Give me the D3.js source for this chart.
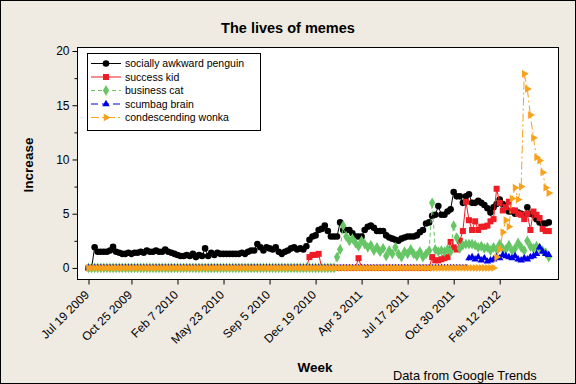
<!DOCTYPE html>
<html>
<head>
<meta charset="utf-8">
<script src="https://cdn.jsdelivr.net/npm/d3@7"></script>
<style>
    html, body { margin: 0; padding: 0; background: #efebe2; }
    svg { display: block; font-family: "Liberation Sans", Arial, sans-serif; }
</style>
</head>
<body>
<svg id="chart" width="576" height="384"></svg>
<script>
//weekly search interest, first week is Jul 19 2009
var penguin = [
    0, 0, 1.9, 1.5, 1.5, 1.5, 1.5, 1.6, 1.95, 1.5,
    1.4, 1.3, 1.3, 1.4, 1.3, 1.4, 1.4, 1.5, 1.4, 1.6,
    1.5, 1.5, 1.6, 1.5, 1.5, 1.7, 1.5, 1.4, 1.3, 1.2,
    1.1, 1.1, 1.2, 1.1, 1.3, 1.0, 1.2, 1.1, 1.8, 1.1,
    1.4, 1.2, 1.4, 1.3, 1.3, 1.3, 1.3, 1.3, 1.3, 1.3,
    1.4, 1.3, 1.5, 1.6, 1.6, 2.2, 1.9, 1.6, 1.9, 1.8,
    1.7, 1.9, 1.5, 1.3, 1.5, 1.6, 1.8, 1.9, 1.7, 1.8,
    1.7, 2.0, 2.6, 2.9, 3.0, 3.5, 3.6, 3.9, 3.4, 2.9,
    2.9, 2.9, 4.2, 3.5, 3.5, 3.5, 3.2, 2.9, 2.9, 2.9,
    3.5, 3.8, 3.9, 3.7, 3.4, 3.4, 3.4, 3.0, 2.8, 2.7,
    2.6, 2.5, 2.7, 2.8, 2.9, 2.9, 2.9, 3.0, 3.3, 3.5,
    4.1, 4.2, 4.8, 4.9, 5.7, 4.9, 4.9, 5.2, 5.4, 7.0,
    6.6, 6.6, 6.0, 6.6, 6.8, 6.0, 6.0, 6.2, 6.0, 5.8,
    5.5, 5.1, 5.6, 5.9, 6.3, 5.9, 5.4, 5.2, 5.2, 5.0,
    5.1, 5.0, 4.8, 5.6, 5.0, 4.9, 4.5, 4.2, 4.1, 4.1, 4.2
];
var successKid = [
    0, 0, 0, 0, 0, 0, 0, 0, 0, 0,
    0, 0, 0, 0, 0, 0, 0, 0, 0, 0,
    0, 0, 0, 0, 0, 0, 0, 0, 0, 0,
    0, 0, 0, 0, 0, 0, 0, 0, 0, 0,
    0, 0, 0, 0, 0, 0, 0, 0, 0, 0,
    0, 0, 0, 0, 0, 0, 0, 0, 0, 0,
    0, 0, 0, 0, 0, 0, 0, 0, 0, 0,
    0, 0, 1.0, 1.2, 1.2, 1.3, 0, 0, 0, 0,
    0, 0, 0, 0, 0, 0, 0, 0, 0.9, 0,
    0, 0, 0, 0, 0, 0, 0, 0, 0, 0,
    0, 0, 0, 0, 0, 0, 0, 0, 0, 0,
    0, 0, 1.0, 0.7, 0.7, 0.8, 0.9, 1.0, 2.4, 1.9,
    1.7, 2.5, 3.4, 6.1, 4.4, 3.5, 4.3, 3.5, 3.8, 3.8,
    3.9, 4.3, 4.5, 7.3, 6.0, 5.3, 5.6, 6.1, 5.3, 5.3,
    5.0, 4.9, 4.5, 5.0, 3.5, 5.2, 4.9, 4.6, 3.6, 3.4, 3.4
];
var businessCat = [
    0, 0, 0, 0, 0, 0, 0, 0, 0, 0,
    0, 0, 0, 0, 0, 0, 0, 0, 0, 0,
    0, 0, 0, 0, 0, 0, 0, 0, 0, 0,
    0, 0, 0, 0, 0, 0, 0, 0, 0, 0,
    0, 0, 0, 0, 0, 0, 0, 0, 0, 0,
    0, 0, 0, 0, 0, 0, 0, 0, 0, 0,
    0, 0, 0, 0, 0, 0, 0, 0, 0, 0,
    0, 0, 0, 0, 0, 0, 0, 0, 0, 0,
    0, 1.0, 1.7, 3.9, 2.9, 2.5, 2.7, 2.3, 2.0, 2.5,
    2.2, 1.9, 2.1, 1.6, 1.9, 1.5, 1.8, 1.1, 1.6, 1.3,
    1.9, 1.3, 1.0, 1.5, 1.3, 1.7, 1.3, 1.1, 1.5, 1.0,
    1.3, 1.6, 6.0, 1.7, 1.5, 1.6, 1.5, 1.7, 1.5, 3.9,
    2.8, 1.8, 2.1, 2.2, 2.2, 2.2, 2.1, 1.9, 2.0, 1.8,
    1.9, 1.6, 1.9, 1.7, 2.2, 1.8, 1.7, 2.1, 1.6, 1.8,
    2.3, 1.9, 1.6, 2.5, 2.0, 1.8, 2.0, 1.8, 1.6, 1.4, 1.0
];
var scumbagBrain = [
    0, 0, 0, 0, 0, 0, 0, 0, 0, 0,
    0, 0, 0, 0, 0, 0, 0, 0, 0, 0,
    0, 0, 0, 0, 0, 0, 0, 0, 0, 0,
    0, 0, 0, 0, 0, 0, 0, 0, 0, 0,
    0, 0, 0, 0, 0, 0, 0, 0, 0, 0,
    0, 0, 0, 0, 0, 0, 0, 0, 0, 0,
    0, 0, 0, 0, 0, 0, 0, 0, 0, 0,
    0, 0, 0, 0, 0, 0, 0, 0, 0, 0,
    0, 0, 0, 0, 0, 0, 0, 0, 0, 0,
    0, 0, 0, 0, 0, 0, 0, 0, 0, 0,
    0, 0, 0, 0, 0, 0, 0, 0, 0, 0,
    0, 0, 0, 0, 0, 0, 0, 0, 0, 0,
    0, 0, 0, 0, 0.9, 1.0, 0.8, 1.0, 0.7, 0.9,
    0.6, 0.7, 0.8, 1.0, 0.9, 1.2, 1.1, 1.0, 0.9, 1.1,
    0.8, 0.7, 0.9, 0.8, 1.0, 1.1, 1.3, 1.9, 1.5, 1.3, 1.2
];
var wonka = [
    0, 0, 0, 0, 0, 0, 0, 0, 0, 0,
    0, 0, 0, 0, 0, 0, 0, 0, 0, 0,
    0, 0, 0, 0, 0, 0, 0, 0, 0, 0,
    0, 0, 0, 0, 0, 0, 0, 0, 0, 0,
    0, 0, 0, 0, 0, 0, 0, 0, 0, 0,
    0, 0, 0, 0, 0, 0, 0, 0, 0, 0,
    0, 0, 0, 0, 0, 0, 0, 0, 0, 0,
    0, 0, 0, 0, 0, 0, 0, 0, 0, 0,
    0, 0, 0, 0, 0, 0, 0, 0, 0, 0,
    0, 0, 0, 0, 0, 0, 0, 0, 0, 0,
    0, 0, 0, 0, 0, 0, 0, 0, 0, 0,
    0, 0, 0, 0, 0, 0, 0, 0, 0, 0,
    0, 0, 0, 0, 0, 0, 0, 0, 0, 0,
    0, 0, 0, 1.0, 1.7, 3.3, 4.4, 3.8, 6.4, 7.4,
    6.3, 7.5, 17.9, 16.5, 14.1, 12.0, 10.2, 9.9, 8.8, 7.4, 6.9
];

//x axis ticks sit on week numbers, labels are the week dates
var tickWeeks = [0, 14, 29, 44, 59, 74, 89, 104, 119, 134];
var tickLabels = ['Jul 19 2009', 'Oct 25 2009', 'Feb 7 2010', 'May 23 2010', 'Sep 5 2010',
    'Dec 19 2010', 'Apr 3 2011', 'Jul 17 2011', 'Oct 30 2011', 'Feb 12 2012'];
var yTicks = [0, 5, 10, 15, 20];
var yMinorTicks = [2.5, 7.5, 12.5, 17.5];
var seriesNames = ['socially awkward penguin', 'success kid', 'business cat', 'scumbag brain', 'condescending wonka'];

//series styles, drawn in this order so wonka ends on top
var series = [
    { name: seriesNames[0], values: penguin, color: '#000000', dash: null, symbol: d3.symbolCircle, size: 34, rotate: 0 },
    { name: seriesNames[1], values: successKid, color: '#ee1c24', dash: null, symbol: d3.symbolSquare, size: 36, rotate: 0 },
    { name: seriesNames[2], values: businessCat, color: '#66c666', dash: '4,3', symbol: d3.symbolDiamond, size: 34, rotate: 0 },
    { name: seriesNames[3], values: scumbagBrain, color: '#0000e6', dash: '7,4', symbol: d3.symbolTriangle, size: 24, rotate: 0 },
    { name: seriesNames[4], values: wonka, color: '#f7a11c', dash: '8,3,2,3', symbol: d3.symbolTriangle, size: 26, rotate: 90 }
];

var plot = { left: 77, top: 47, right: 558, bottom: 279 };
var svg = d3.select('#chart');

//outer frame
svg.append('rect')
    .attr('x', 0.5).attr('y', 0.5).attr('width', 575).attr('height', 383)
    .attr('fill', '#efebe2').attr('stroke', '#000');

//scales
var xScale = d3.scaleLinear().domain([-3.75, 153]).range([plot.left, plot.right]);
var yScale = d3.scaleLinear().domain([-1.02, 20.37]).range([plot.bottom, plot.top]);

//plot area
svg.append('rect')
    .attr('x', plot.left + 0.5).attr('y', plot.top + 0.5)
    .attr('width', plot.right - plot.left).attr('height', plot.bottom - plot.top)
    .attr('fill', '#fff').attr('stroke', '#000');

//y axis
var yAxisG = svg.append('g')
    .attr('transform', 'translate(' + (plot.left + 0.5) + ',0)')
    .call(d3.axisLeft(yScale).tickValues(yTicks).tickSize(5).tickPadding(3));
yAxisG.select('.domain').remove();
yAxisG.selectAll('text').attr('font-size', 12).attr('fill', '#000').attr('font-family', null);
svg.append('g')
    .attr('transform', 'translate(' + (plot.left + 0.5) + ',0)')
    .call(d3.axisLeft(yScale).tickValues(yMinorTicks).tickSize(3).tickFormat(''))
    .select('.domain').remove();

//x axis
var xAxisG = svg.append('g')
    .attr('transform', 'translate(0,' + (plot.bottom + 0.5) + ')')
    .call(d3.axisBottom(xScale).tickValues(tickWeeks).tickSize(5).tickFormat(''));
xAxisG.select('.domain').remove();
xAxisG.selectAll('.tick').append('text')
    .attr('fill', '#000')
    .attr('font-size', 12)
    .attr('text-anchor', 'end')
    .attr('transform', 'translate(1,16) rotate(-45)')
    .text(function (d, i) { return tickLabels[i]; });

//titles
svg.append('text')
    .attr('x', 288).attr('y', 33)
    .attr('text-anchor', 'middle').attr('font-size', 14.5).attr('font-weight', 'bold')
    .text('The lives of memes');
svg.append('text')
    .attr('transform', 'translate(33,165) rotate(-90)')
    .attr('text-anchor', 'middle').attr('font-size', 13.5).attr('font-weight', 'bold')
    .text('Increase');
svg.append('text')
    .attr('x', 315).attr('y', 372)
    .attr('text-anchor', 'middle').attr('font-size', 13.5).attr('font-weight', 'bold')
    .text('Week');
svg.append('text')
    .attr('x', 393).attr('y', 380)
    .attr('font-size', 12.8)
    .text('Data from Google Trends');

//series lines and bullets
var line = d3.line()
    .x(function (d, i) { return xScale(i); })
    .y(function (d) { return yScale(d); });

var seriesG = svg.append('g');
series.forEach(function (s) {
    var g = seriesG.append('g');
    g.append('path')
        .attr('d', line(s.values))
        .attr('fill', 'none')
        .attr('stroke', s.color)
        .attr('stroke-width', 1)
        .attr('stroke-dasharray', s.dash);
    g.selectAll('path.bullet')
        .data(s.values)
        .enter().append('path')
        .attr('class', 'bullet')
        .attr('d', d3.symbol().type(s.symbol).size(s.size))
        .attr('fill', s.color)
        .attr('transform', function (d, i) {
            return 'translate(' + xScale(i) + ',' + yScale(d) + ') rotate(' + s.rotate + ')';
        });
});

//legend
var legend = svg.append('g');
legend.append('rect')
    .attr('x', 87.5).attr('y', 53.5).attr('width', 173).attr('height', 77)
    .attr('fill', '#fff').attr('stroke', '#000');
series.forEach(function (s, i) {
    var ly = 63.5 + i * 13.5;
    legend.append('line')
        .attr('x1', 91).attr('x2', 121).attr('y1', ly).attr('y2', ly)
        .attr('stroke', s.color).attr('stroke-dasharray', s.dash);
    legend.append('path')
        .attr('d', d3.symbol().type(s.symbol).size(s.size))
        .attr('fill', s.color)
        .attr('transform', 'translate(106,' + ly + ') rotate(' + s.rotate + ')');
    legend.append('text')
        .attr('x', 125).attr('y', ly + 3.8)
        .attr('font-size', 10.5)
        .text(s.name);
});
</script>
</body>
</html>
